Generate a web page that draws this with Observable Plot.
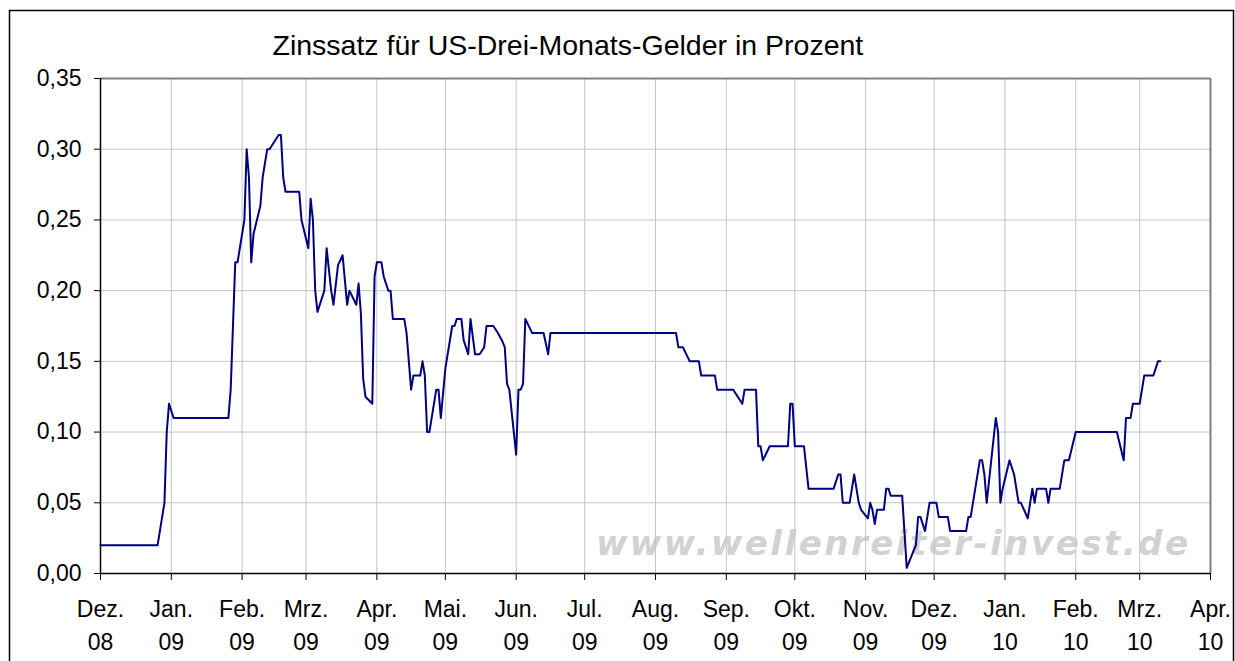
<!DOCTYPE html>
<html>
<head>
<meta charset="utf-8">
<script src="https://cdn.jsdelivr.net/npm/d3@7"></script>
<script src="https://cdn.jsdelivr.net/npm/@observablehq/plot@0.6"></script>
<style>
  html, body { margin: 0; padding: 0; background: #fff; }
</style>
</head>
<body>
<div id="chart"></div>
<script>
const title = "Zinssatz für US-Drei-Monats-Gelder in Prozent";
const watermark = "www.wellenreiter-invest.de";

const dates = [
  "2008-12-01","2008-12-26","2008-12-29","2008-12-30","2008-12-31","2009-01-02","2009-01-26","2009-01-27","2009-01-29","2009-01-30",
  "2009-02-02","2009-02-03","2009-02-04","2009-02-05","2009-02-06","2009-02-09","2009-02-10","2009-02-12","2009-02-13","2009-02-17",
  "2009-02-18","2009-02-19","2009-02-20","2009-02-26","2009-02-27","2009-03-02","2009-03-03","2009-03-04","2009-03-05","2009-03-06",
  "2009-03-09","2009-03-10","2009-03-11","2009-03-12","2009-03-13","2009-03-15","2009-03-17","2009-03-19","2009-03-20","2009-03-23",
  "2009-03-24","2009-03-25","2009-03-26","2009-03-27","2009-03-30","2009-03-31","2009-04-01","2009-04-03","2009-04-04","2009-04-06",
  "2009-04-07","2009-04-08","2009-04-13","2009-04-14","2009-04-16","2009-04-17","2009-04-20","2009-04-21","2009-04-22","2009-04-23",
  "2009-04-24","2009-04-27","2009-04-28","2009-04-29","2009-05-01","2009-05-04","2009-05-05","2009-05-06","2009-05-08","2009-05-09",
  "2009-05-11","2009-05-12","2009-05-14","2009-05-16","2009-05-18","2009-05-19","2009-05-22","2009-05-24","2009-05-26","2009-05-27",
  "2009-05-28","2009-05-29","2009-06-01","2009-06-02","2009-06-03","2009-06-04","2009-06-05","2009-06-08","2009-06-13","2009-06-15",
  "2009-06-16","2009-08-10","2009-08-11","2009-08-13","2009-08-16","2009-08-20","2009-08-21","2009-08-27","2009-08-28","2009-09-04",
  "2009-09-08","2009-09-09","2009-09-14","2009-09-15","2009-09-16","2009-09-17","2009-09-20","2009-09-28","2009-09-29","2009-09-30",
  "2009-10-01","2009-10-05","2009-10-07","2009-10-18","2009-10-20","2009-10-21","2009-10-22","2009-10-25","2009-10-27","2009-10-29",
  "2009-10-30","2009-11-02","2009-11-03","2009-11-04","2009-11-05","2009-11-06","2009-11-09","2009-11-10","2009-11-11","2009-11-12",
  "2009-11-17","2009-11-19","2009-11-23","2009-11-24","2009-11-25","2009-11-27","2009-11-29","2009-12-02","2009-12-03","2009-12-07",
  "2009-12-08","2009-12-15","2009-12-16","2009-12-17","2009-12-19","2009-12-21","2009-12-22","2009-12-23","2009-12-24","2009-12-28",
  "2009-12-29","2009-12-30","2009-12-31","2010-01-03","2010-01-05","2010-01-07","2010-01-08","2010-01-11","2010-01-13","2010-01-14",
  "2010-01-15","2010-01-19","2010-01-20","2010-01-21","2010-01-25","2010-01-27","2010-01-29","2010-02-01","2010-02-19","2010-02-22",
  "2010-02-23","2010-02-25","2010-02-26","2010-03-01","2010-03-03","2010-03-07","2010-03-09","2010-03-10"
];

const rates = [
  0.02,0.02,0.05,0.10,0.12,0.11,0.11,0.13,0.22,0.22,
  0.25,0.30,0.28,0.22,0.24,0.26,0.28,0.30,0.30,0.31,
  0.31,0.28,0.27,0.27,0.25,0.23,0.265,0.25,0.20,0.185,
  0.20,0.23,0.215,0.20,0.19,0.218,0.225,0.19,0.20,0.19,
  0.205,0.184,0.138,0.125,0.12,0.21,0.22,0.22,0.21,0.20,
  0.20,0.18,0.18,0.17,0.13,0.14,0.14,0.15,0.14,0.10,
  0.10,0.13,0.13,0.11,0.145,0.175,0.175,0.18,0.18,0.165,
  0.155,0.18,0.155,0.155,0.16,0.175,0.175,0.17,0.164,0.16,
  0.134,0.13,0.084,0.13,0.13,0.134,0.18,0.17,0.17,0.155,
  0.17,0.17,0.16,0.16,0.15,0.15,0.14,0.14,0.13,0.13,
  0.12,0.13,0.13,0.09,0.09,0.08,0.09,0.09,0.12,0.12,
  0.09,0.09,0.06,0.06,0.07,0.07,0.05,0.05,0.07,0.05,
  0.045,0.039,0.05,0.045,0.035,0.045,0.045,0.06,0.06,0.055,
  0.055,0.004,0.02,0.04,0.04,0.03,0.05,0.05,0.04,0.04,
  0.03,0.03,0.04,0.04,0.06,0.08,0.08,0.07,0.05,0.11,
  0.10,0.05,0.06,0.08,0.07,0.05,0.05,0.039,0.06,0.05,
  0.06,0.06,0.05,0.06,0.06,0.08,0.08,0.10,0.10,0.08,
  0.11,0.11,0.12,0.12,0.14,0.14,0.15,0.15
];

const monthNames = ["Dez.","Jan.","Feb.","Mrz.","Apr.","Mai.","Jun.","Jul.","Aug.","Sep.","Okt.","Nov.","Dez.","Jan.","Feb.","Mrz.","Apr."];
const yearNames  = ["08","09","09","09","09","09","09","09","09","09","09","09","09","10","10","10","10"];
const yTicks = [0, 0.05, 0.10, 0.15, 0.20, 0.25, 0.30, 0.35];

const xStart = new Date(Date.UTC(2008, 11, 1));
const xEnd = new Date(Date.UTC(2010, 3, 1));
const monthTicks = d3.utcMonth.range(xStart, new Date(Date.UTC(2010, 3, 2)));

const data = dates.map((d, i) => ({date: new Date(d + "T00:00:00Z"), rate: rates[i]}));
const fmt = v => v.toFixed(2).replace(".", ",");

const chart = Plot.plot({
  width: 1235,
  height: 661,
  marginLeft: 100,
  marginRight: 25,
  marginTop: 78,
  marginBottom: 88,
  style: {fontFamily: "'Liberation Sans', Arial, sans-serif", fontSize: "23px", background: "#fff", color: "#000"},
  x: {type: "utc", domain: [xStart, xEnd], label: null},
  y: {domain: [0, 0.35], label: null},
  marks: [
    Plot.text([watermark], {frameAnchor: "bottom-right", dx: -20, dy: -19, lineAnchor: "bottom", textAnchor: "end",
      fontFamily: "'DejaVu Sans', Verdana, sans-serif", fontStyle: "italic", fontWeight: "bold", fontSize: 34, fill: "#d2d2d2"}),
    Plot.gridY(yTicks, {stroke: "#c4c4c4", strokeOpacity: 1, strokeWidth: 1}),
    Plot.gridX(monthTicks, {stroke: "#c4c4c4", strokeOpacity: 1, strokeWidth: 1}),
    Plot.line(data, {x: "date", y: "rate", stroke: "#000080", strokeWidth: 2}),
    Plot.ruleY([0.35], {stroke: "#808080", strokeWidth: 2}),
    Plot.ruleX([xEnd], {stroke: "#808080", strokeWidth: 2}),
    Plot.ruleX([xStart], {stroke: "#000", strokeWidth: 1.5}),
    Plot.ruleY([0], {stroke: "#000", strokeWidth: 1.5}),
    Plot.axisY({ticks: yTicks, tickFormat: fmt, tickSize: 6, tickPadding: 13, fontSize: 23, stroke: "#000", label: null}),
    Plot.axisX({ticks: monthTicks, tickFormat: () => "", tickSize: 7, stroke: "#000", label: null}),
    Plot.text(monthTicks, {x: d => d, text: (d, i) => monthNames[i], frameAnchor: "bottom", dy: 43, lineAnchor: "bottom", fontSize: 23}),
    Plot.text(monthTicks, {x: d => d, text: (d, i) => yearNames[i], frameAnchor: "bottom", dy: 76, lineAnchor: "bottom", fontSize: 23}),
    Plot.text([title], {frameAnchor: "top-left", dx: 172, dy: -24, lineAnchor: "bottom", textAnchor: "start", fontSize: 28.5})
  ]
});

document.getElementById("chart").appendChild(chart);

// watermark letter spacing and outer border
d3.select(chart).selectAll("text").filter(function() { return this.textContent === watermark; })
  .attr("letter-spacing", "2.5px");
d3.select(chart).append("rect")
  .attr("x", 9.5).attr("y", 10.5).attr("width", 1224).attr("height", 700)
  .attr("fill", "none").attr("stroke", "#000").attr("stroke-width", 1.5);
</script>
</body>
</html>
